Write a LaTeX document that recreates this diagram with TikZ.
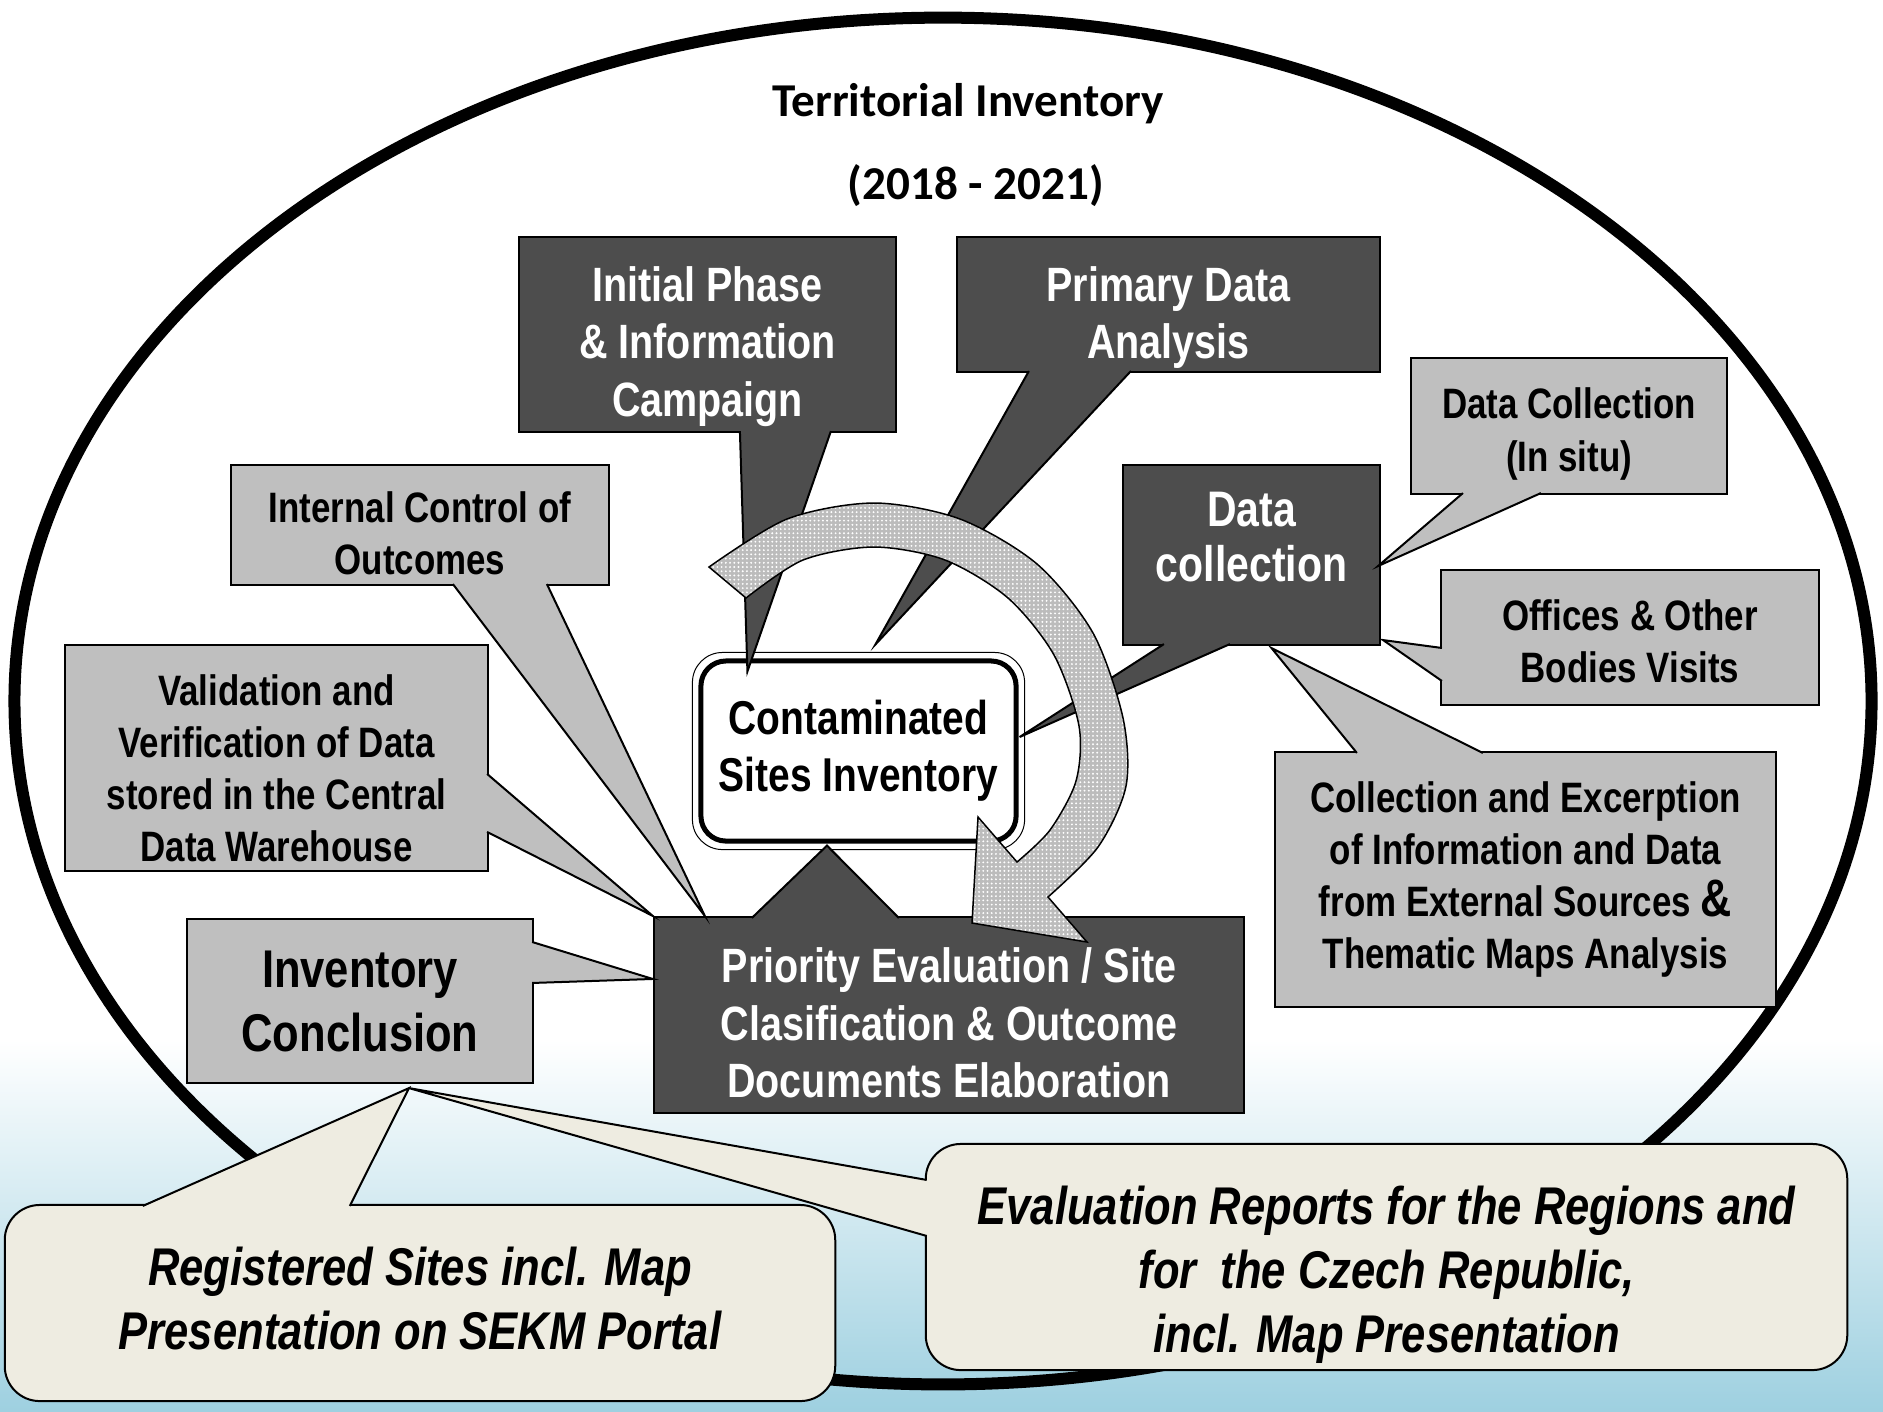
\documentclass[tikz,border=0pt]{standalone}
\usepackage{fontspec}
\setmainfont{Liberation Sans}
\newfontfamily\narrowsans[FakeStretch=0.82]{Liberation Sans}
\newfontfamily\titlefont{Carlito}
\usetikzlibrary{calc,patterns.meta}

\definecolor{boxdark}{RGB}{77,77,77}
\definecolor{boxgray}{RGB}{191,191,191}
\definecolor{notecream}{RGB}{238,236,225}
\definecolor{arrowgray}{RGB}{188,188,188}
\definecolor{skyblue}{RGB}{158,208,224}

\tikzset{
    titletext/.style={font=\titlefont\bfseries\fontsize{13.4}{16}\selectfont},
    darkbox/.style={draw=black, line width=0.2mm, fill=boxdark, inner sep=0pt},
    darktext/.style={text=white, align=center, inner sep=0pt, font=\narrowsans\bfseries\fontsize{13.7}{16.4}\selectfont},
    graybox/.style={draw=black, line width=0.2mm, fill=boxgray, inner sep=0pt},
    graytext/.style={align=center, inner sep=0pt, font=\narrowsans\bfseries\fontsize{12.1}{14.8}\selectfont},
    notebox/.style={draw=black, line width=0.2mm, fill=notecream, rounded corners=3.5mm, inner sep=0pt},
    notetext/.style={align=center, inner sep=0pt, font=\narrowsans\bfseries\itshape\fontsize{15.1}{18.2}\selectfont},
    centrebox/.style={draw=black, line width=0.5mm, fill=white, rounded corners=2.5mm, align=center, inner sep=0pt,
        minimum width=3.15cm, minimum height=1.8cm, font=\narrowsans\bfseries\fontsize{13.5}{16.2}\selectfont},
    darktail/.style={fill=boxdark, draw=black, line width=0.2mm},
    graytail/.style={fill=boxgray, draw=black, line width=0.2mm},
    notetail/.style={fill=notecream, draw=black, line width=0.2mm},
}

\begin{document}
\begin{tikzpicture}[x=0.01cm, y=-0.01cm]
            \useasboundingbox (0,0) rectangle (1883,1411);
            \fill[white] (0,0) rectangle (1883,1411);
            \shade[top color=white, bottom color=skyblue] (0,1040) rectangle (1883,1411);

            \draw[line width=1.2mm] (943,701) ellipse [x radius=9.28cm, y radius=6.83cm];

            \node[titletext] (title) at (968,104) {Territorial Inventory};
            \node[titletext] (period) at (976,186) {(2018 - 2021)};

            % centre of the inventory
            \node[centrebox] (csi) at (858.5,751) {Contaminated\\ Sites Inventory};
            \draw[line width=0.1mm, rounded corners=3mm] ($(csi.north west)+(-6,-6)$) rectangle ($(csi.south east)+(6,6)$);

            % dark phases
            \node[darkbox, minimum width=3.77cm, minimum height=1.95cm] (init) at (707.5,334.5) {};
            \node[darktext] (initText) at ($(init)+(0,12)$) {Initial Phase\\ \& Information\\ Campaign};
            \filldraw[darktail] ($(init.south west)+(222,-2)$) -- ($(csi.north west)+(49,13)$) -- ($(init.south west)+(313,-2)$);

            \node[darkbox, minimum width=4.23cm, minimum height=1.35cm] (prim) at (1168.5,304.5) {};
            \node[darktext] (primText) at ($(prim)+(0,13)$) {Primary Data\\ Analysis};
            \filldraw[darktail] ($(prim.south west)+(73,-2)$) -- ($(csi.north west)+(177,-14)$) -- ($(prim.south west)+(175,-2)$);

            \node[darkbox, minimum width=2.57cm, minimum height=1.8cm] (datacol) at (1251.5,555) {};
            \node[darktext, font=\narrowsans\bfseries\fontsize{14.2}{15.6}\selectfont] (datacolText) at ($(datacol)+(0,-18)$) {Data\\ collection};
            \filldraw[darktail] ($(datacol.south west)+(42,-2)$) -- ($(csi.east)+(1,-14)$) -- ($(datacol.south west)+(108,-2)$);

            \node[darkbox, minimum width=5.9cm, minimum height=1.96cm] (prio) at (949,1015) {};
            \node[darktext] (prioText) at ($(prio)+(0,8)$) {Priority Evaluation / Site\\ Clasification \& Outcome\\ Documents Elaboration};
            \filldraw[darktail] ($(prio.north west)+(99,2)$) -- ($(csi.south)+(-31.5,2)$) -- ($(prio.north west)+(246,2)$);

            % grey steps
            \node[graybox, minimum width=3.16cm, minimum height=1.36cm] (insitu) at (1569,426) {};
            \node[graytext] (insituText) at ($(insitu)+(0,8)$) {Data Collection\\ (In situ)};
            \filldraw[graytail] ($(insitu.south west)+(53,-2)$) -- ($(datacol.east)+(-3,11)$) -- ($(insitu.south west)+(131,-2)$);

            \node[graybox, minimum width=3.78cm, minimum height=1.35cm] (offices) at (1630,637.5) {};
            \node[graytext] (officesText) at ($(offices)+(0,4)$) {Offices \& Other\\ Bodies Visits};
            \filldraw[graytail] ($(offices.north west)+(2,79)$) -- ($(datacol.south east)+(2,-6)$) -- ($(offices.north west)+(2,112)$);

            \node[graybox, minimum width=5.01cm, minimum height=2.55cm] (excerpt) at (1525.5,879.5) {};
            \node[graytext] (excerptText) at (excerpt) {Collection and Excerption\\ of Information and Data\\ from External Sources {\fontsize{15}{15}\selectfont\&}\\ Thematic Maps Analysis};
            \filldraw[graytail] ($(excerpt.north west)+(83,2)$) -- ($(datacol.south)+(20,2)$) -- ($(excerpt.north west)+(209,2)$);

            \node[graybox, minimum width=3.78cm, minimum height=1.2cm] (internal) at (420,525) {};
            \node[graytext] (internalText) at ($(internal)+(0,8)$) {Internal Control of\\ Outcomes};
            \filldraw[graytail] ($(internal.south west)+(223,-2)$) -- ($(prio.north west)+(52,0)$) -- ($(internal.south west)+(317,-2)$);

            \node[graybox, minimum width=4.23cm, minimum height=2.26cm] (valid) at (276.5,758) {};
            \node[graytext] (validText) at ($(valid)+(0,10)$) {Validation and\\ Verification of Data\\ stored in the Central\\ Data Warehouse};
            \filldraw[graytail] ($(valid.north east)+(-2,130)$) -- (prio.north west) -- ($(valid.north east)+(-2,188)$);

            \node[graybox, minimum width=3.46cm, minimum height=1.64cm] (concl) at (360,1001) {};
            \node[graytext, font=\narrowsans\bfseries\fontsize{15.1}{18.2}\selectfont] (conclText) at (concl) {Inventory\\ Conclusion};
            \filldraw[graytail] ($(concl.north east)+(-2,24)$) -- ($(prio.north west)+(0,63)$) -- ($(concl.north east)+(-2,65)$);

            % the cycle arrow
            \draw[line width=0.15mm, preaction={fill=arrowgray}, pattern={Dots[distance=1.2pt, radius=0.3pt]}, pattern color=white]
                plot[smooth] coordinates {(709,567) (787,519) (874,503) (960,519) (1037,564) (1093,633) (1123,718) (1126,786) (1098,847) (1048,897)}
                -- (1087,942) -- (972,923) -- (978,817) -- (1017,862)
                -- plot[smooth] coordinates {(1017,862) (1050,830) (1076,781) (1079,726) (1054,655) (1008,598) (945,560) (874,547) (803,560) (746,598)}
                -- cycle;

            % outputs
            \node[notebox, minimum width=8.3cm, minimum height=1.96cm] (regist) at (420,1303) {};
            \node[notetext] (registText) at ($(regist)+(0,-5)$) {Registered Sites incl. Map\\ Presentation on SEKM Portal};
            \filldraw[notetail] ($(regist.north west)+(139,2)$) -- ($(concl.south)+(49,4)$) -- ($(regist.north west)+(346,2)$);

            \node[notebox, minimum width=9.21cm, minimum height=2.26cm] (evalrep) at (1386.5,1257) {};
            \node[notetext] (evalrepText) at ($(evalrep)+(0,18)$) {Evaluation Reports for the Regions and\\ for\ \ the Czech Republic,\\ incl. Map Presentation};
            \filldraw[notetail] ($(evalrep.north west)+(2,37)$) -- ($(concl.south)+(49,4)$) -- ($(evalrep.north west)+(2,93)$);
\end{tikzpicture}
\end{document}
